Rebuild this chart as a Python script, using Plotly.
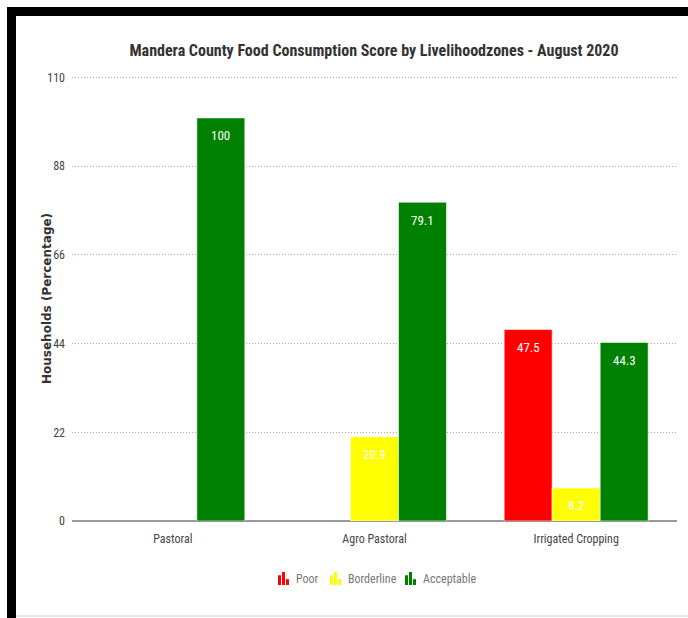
import plotly.graph_objects as go

categories = ["Pastoral", "Agro Pastoral", "Irrigated Cropping"]
poor = [None, None, 47.5]
borderline = [None, 20.9, 8.2]
acceptable = [100, 79.1, 44.3]
series_names = ["Poor", "Borderline", "Acceptable"]
series_colors = ["#ff0000", "#ffff00", "#008000"]
y_ticks = [0, 22, 44, 66, 88, 110]

W, H = 688, 618
ML, MR, MT, MB = 72, 11, 76, 97
PW, PH = W - ML - MR, H - MT - MB
BARGAP = 0.286
BAR_W = PW / len(categories) * (1 - BARGAP) / len(series_names)

def px_x(x):
    return (x - ML) / PW

def px_y(y):
    return (H - MB - y) / PH

FONT = "Liberation Sans Narrow, Arial Narrow, Roboto Condensed, Liberation Sans, sans-serif"

fig = go.Figure()
annotations = []
shapes = []
all_vals = [poor, borderline, acceptable]
for i, (name, vals, col) in enumerate(zip(series_names, all_vals, series_colors)):
    fig.add_trace(go.Bar(
        name=name, x=categories, y=vals,
        marker=dict(color=col, line=dict(color="rgba(255,255,255,0.6)", width=1)),
        cliponaxis=False, showlegend=False,
    ))
    for c, v in zip(categories, vals):
        if v is None:
            continue
        annotations.append(dict(
            x=c, y=v, xref="x", yref="y", xshift=(i - 1) * BAR_W, yshift=-18,
            text=str(int(v)) if float(v).is_integer() else str(v),
            showarrow=False, yanchor="middle",
            font=dict(color="white", size=13, family=FONT)))

# custom legend with small bar-chart glyphs
legend_icon_x = [278, 330, 405]
legend_y_bottom, legend_h = 585, 13
for name, col, ix in zip(series_names, series_colors, legend_icon_x):
    for k, frac in enumerate([0.75, 1.0, 0.45]):
        x0 = ix + k * 4
        shapes.append(dict(type="rect", xref="paper", yref="paper",
                           x0=px_x(x0), x1=px_x(x0 + 3),
                           y0=px_y(legend_y_bottom), y1=px_y(legend_y_bottom - legend_h * frac),
                           fillcolor=col, line=dict(width=0)))
    annotations.append(dict(text=name, xref="paper", yref="paper", x=px_x(ix + 16), y=px_y(579),
                            xanchor="left", yanchor="middle", showarrow=False,
                            font=dict(size=12, color="#777", family=FONT)))

annotations.append(dict(text="<b>Households (Percentage)</b>", xref="paper", yref="paper",
                        x=px_x(38), y=px_y(299), textangle=-90, showarrow=False,
                        font=dict(size=12, color="#333", family="DejaVu Sans, Liberation Sans, sans-serif")))

shapes += [
    dict(type="rect", xref="paper", yref="paper", x0=px_x(7), x1=px_x(W), y0=px_y(7), y1=px_y(16),
         fillcolor="black", line=dict(width=0), layer="above"),
    dict(type="rect", xref="paper", yref="paper", x0=px_x(7), x1=px_x(16), y0=px_y(7), y1=px_y(H),
         fillcolor="black", line=dict(width=0), layer="above"),
    dict(type="line", xref="paper", yref="paper", x0=px_x(16), x1=px_x(W), y0=px_y(616), y1=px_y(616),
         line=dict(color="#e6e6e6", width=2), layer="above"),
]

fig.update_layout(
    width=W, height=H,
    margin=dict(l=ML, r=MR, t=MT, b=MB, pad=0),
    paper_bgcolor="white", plot_bgcolor="white",
    barmode="group", bargap=BARGAP, bargroupgap=0,
    font=dict(family=FONT, color="#444"),
    title=dict(text="<b>Mandera County Food Consumption Score by Livelihoodzones - August 2020</b>",
               x=px_x(374), xref="paper", xanchor="center", y=1 - 50 / H, yanchor="middle",
               font=dict(size=16, color="#333", family=FONT)),
    showlegend=False,
    xaxis=dict(showgrid=False, showline=False, ticks="", tickfont=dict(size=12, color="#444"),
               ticklabelstandoff=9),
    yaxis=dict(range=[0, 110.4], tickvals=y_ticks, showgrid=True, gridcolor="#aaa",
               griddash="1px,2px", gridwidth=1, zeroline=True, zerolinecolor="#999", zerolinewidth=1.5,
               ticks="", tickfont=dict(size=12, color="#444"), ticklabelstandoff=6),
    annotations=annotations,
    shapes=shapes,
)

fig.write_html("out.html")
